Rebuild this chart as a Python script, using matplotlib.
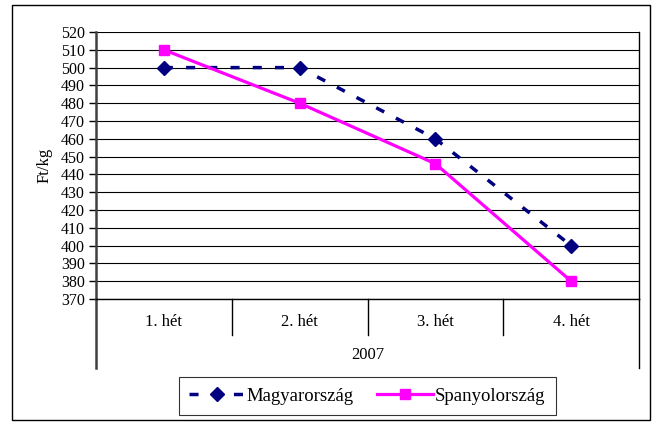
import matplotlib
matplotlib.use("Agg")
import matplotlib.pyplot as plt
from matplotlib.patches import Rectangle
from matplotlib.lines import Line2D
import matplotlib.transforms as mtransforms

categories = ["1. hét", "2. hét", "3. hét", "4. hét"]
group_label = "2007"
magyar = [500, 500, 460, 400]
spanyol = [510, 480, 446, 380]
yticks = list(range(370, 521, 10))

plt.rcParams['font.family'] = ['Liberation Serif', 'DejaVu Serif']

W, H = 653, 425
fig = plt.figure(figsize=(W / 100, H / 100), dpi=100)

# outer border
fig.patches.append(Rectangle((12 / W, 1 - 420 / H), (650 - 12) / W, (420 - 5) / H,
                             transform=fig.transFigure, fill=False,
                             edgecolor='black', lw=1.0))

left, right, top, bottom = 96, 639, 32, 299
ax = fig.add_axes([left / W, 1 - bottom / H, (right - left) / W, (bottom - top) / H])

x = list(range(len(categories)))
ax.plot(x, magyar, color='#000080', lw=2.5, linestyle=(0, (2.6, 3.8)),
        marker='D', markersize=7.5, label='Magyarország', zorder=3)
ax.plot(x, spanyol, color='#FF00FF', lw=2.3, marker='s', markersize=7.5,
        label='Spanyolország', zorder=4)

ax.set_xlim(-0.5, len(categories) - 0.5)
ax.set_ylim(370, 520)
ax.set_yticks(yticks)
ax.tick_params(axis='y', labelsize=11.5, length=5, width=1, direction='out', pad=3)
ax.set_xticks([])
ax.grid(axis='y', color='black', lw=0.8)
ax.set_axisbelow(True)
ax.spines['top'].set_visible(False)
ax.spines['right'].set_color('black')
ax.spines['right'].set_linewidth(1.0)
ax.spines['left'].set_color('#404040')
ax.spines['left'].set_linewidth(1.8)
ax.spines['bottom'].set_color('black')
ax.spines['bottom'].set_linewidth(1.0)

ax.set_ylabel('Ft/kg', fontsize=12, labelpad=6)

# multi-level category axis
trans = mtransforms.blended_transform_factory(ax.transData, ax.transAxes)
ph = bottom - top
y_inner = -(335 - bottom) / ph
y_outer = -(368 - bottom) / ph
for i in range(len(categories) + 1):
    xb = i - 0.5
    yb = y_outer if i in (0, len(categories)) else y_inner
    c = '#404040' if i == 0 else 'black'
    ax.add_line(Line2D([xb, xb], [0, yb], transform=trans, color=c,
                       lw=1.8 if i == 0 else 1.0, clip_on=False))
for i, c in enumerate(categories):
    ax.text(i, -(322 - bottom) / ph, c, transform=trans, ha='center', va='center',
            fontsize=12)
ax.text((len(categories) - 1) / 2, -(355 - bottom) / ph, group_label, transform=trans,
        ha='center', va='center', fontsize=12)

leg = fig.legend(loc='center', bbox_to_anchor=(367 / W, 1 - 396 / H), ncol=2,
                 frameon=True, fancybox=False, fontsize=13.5, handlelength=3.0,
                 handletextpad=0.1, columnspacing=1.2, borderpad=0.55)
leg.get_frame().set_edgecolor('black')
leg.get_frame().set_linewidth(0.8)

fig.savefig('out.png', dpi=100)
